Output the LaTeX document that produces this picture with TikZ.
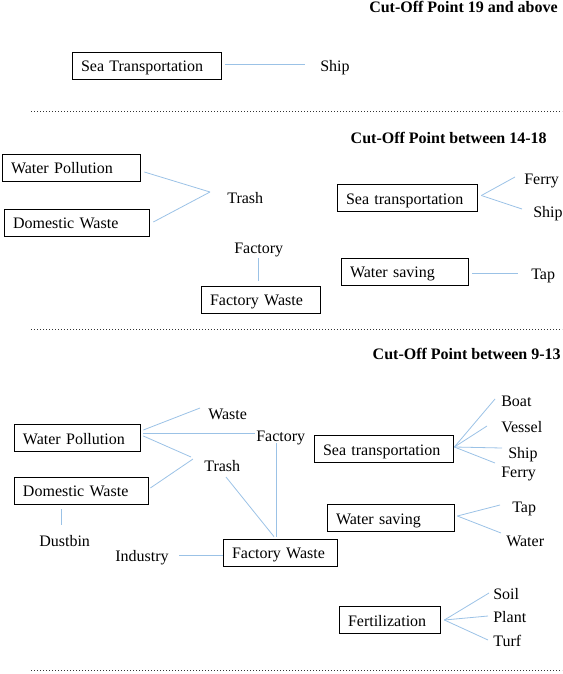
\documentclass[tikz,border=0pt]{standalone}
\usepackage{fontspec}
\setmainfont{Liberation Serif}
\usepackage{tikz}
\usetikzlibrary{arrows}
\definecolor{lnk}{RGB}{155,194,230}

\begin{document}
\begin{tikzpicture}[x=1pt,y=-1pt,semithick,font=\fontsize{16}{19}\selectfont]
  \tikzstyle{concept}=[draw=black,line width=0.7pt,inner xsep=9pt,inner ysep=0pt,align=left,
                       text height=13pt,text depth=1pt,minimum height=27pt]
  \tikzstyle{word}=[inner sep=0pt,anchor=base west]
  \tikzstyle{cutoff}=[inner sep=0pt,anchor=base east,font=\fontsize{16}{19}\selectfont\bfseries]
  \tikzstyle{divider}=[draw=black!80,line width=0.6pt,dash pattern=on 0.7pt off 2.3pt]
  \tikzstyle{every edge}=[draw=lnk,line width=0.8pt]
  \useasboundingbox (0,0) rectangle (562,674);

  % 19 and above
  \node[cutoff]                      (T1)    at (558,13)     {Cut-Off Point 19 and above};
  \node[concept,text width=131pt]    (ST1)   at (146.5,66)   {Sea Transportation};
  \node[word]                        (Ship1) at (320,72)     {Ship};
  \path ([xshift=4pt,yshift=1.5pt]ST1.east) edge ([xshift=-15pt,yshift=7.5pt]Ship1.base west);
  \draw[divider] (31,111) -- (562,111);

  % 14-18
  \node[cutoff]                      (T2)    at (547,143)    {Cut-Off Point between 14-18};
  \node[concept,text width=120pt]    (WP2)   at (71,167.5)   {Water Pollution};
  \node[concept,text width=127pt]    (DW2)   at (76.5,222.5) {Domestic Waste};
  \node[word]                        (Trash2) at (227,203)   {Trash};
  \coordinate                        (J2)    at (210,192);
  \node[concept,text width=122pt]    (ST2)   at (407,198)    {Sea transportation};
  \node[word]                        (Ferry2) at (524,184)   {Ferry};
  \node[word]                        (Ship2) at (533,217)    {Ship};
  \node[word]                        (Fac2)  at (234,253)    {Factory};
  \node[concept,text width=101pt]    (FW2)   at (260.5,299.5) {Factory Waste};
  \node[concept,text width=109pt]    (WS2)   at (404.5,271.5) {Water saving};
  \node[word]                        (Tap2)  at (531,279)    {Tap};

  \path ([xshift=4pt,yshift=-4.5pt]WP2.east) edge (J2)
        ([xshift=4pt,yshift=0.5pt]DW2.east)  edge (J2)
        ([xshift=4pt,yshift=2.5pt]ST2.east)  edge ([xshift=-9pt,yshift=7pt]Ferry2.base west)
        ([xshift=4pt,yshift=2.5pt]ST2.east)  edge ([xshift=-11pt,yshift=8pt]Ship2.base west)
        ([yshift=-1pt]Fac2.south)            edge ([yshift=5pt]Fac2.south |- FW2.north)
        ([xshift=4pt,yshift=-1.5pt]WS2.east) edge ([xshift=-13pt,yshift=6pt]Tap2.base west);
  \draw[divider] (31,329) -- (562,329);

  % 9-13
  \node[cutoff]                      (T3)    at (561,359)    {Cut-Off Point between 9-13};
  \node[concept,text width=108pt]    (WP3)   at (77,438)     {Water Pollution};
  \node[word]                        (Waste3) at (208,419)   {Waste};
  \node[word]                        (Fac3)  at (256,441)    {Factory};
  \node[word]                        (Trash3) at (204,471)   {Trash};
  \node[concept,text width=116pt]    (DW3)   at (81,490.5)   {Domestic Waste};
  \node[word]                        (Bin3)  at (39,546)     {Dustbin};
  \node[word]                        (Ind3)  at (115,561)    {Industry};
  \node[concept,text width=96pt]     (FW3)   at (280,552.5)  {Factory Waste};
  \node[concept,text width=121pt]    (ST3)   at (383.5,449)  {Sea transportation};
  \node[word]                        (Boat3) at (501,406)    {Boat};
  \node[word]                        (Ves3)  at (501,432)    {Vessel};
  \node[word]                        (Ship3) at (508,458)    {Ship};
  \node[word]                        (Ferry3) at (501,477)   {Ferry};
  \node[concept,text width=109pt]    (WS3)   at (390.5,518)  {Water saving};
  \node[word]                        (Tap3)  at (512,512)    {Tap};
  \node[word]                        (Wat3)  at (506,546)    {Water};
  \node[concept,text width=83pt]     (Fert3) at (389.5,620)  {Fertilization};
  \node[word]                        (Soil3) at (493,599)    {Soil};
  \node[word]                        (Plant3) at (493,622)   {Plant};
  \node[word]                        (Turf3) at (493,646)    {Turf};

  \path ([xshift=3pt,yshift=8pt]WP3.east)   edge ([xshift=-8pt,yshift=11pt]Waste3.base west)
        ([xshift=3pt,yshift=5pt]WP3.east)   edge ([xshift=-1pt,yshift=8pt]Fac3.base west)
        ([xshift=3pt,yshift=2pt]WP3.east)   edge ([xshift=-13pt,yshift=14pt]Trash3.base west)
        ([xshift=2pt,yshift=2.5pt]DW3.east) edge ([xshift=-11pt,yshift=12pt]Trash3.base west)
        ([xshift=22pt,yshift=-6pt]Trash3.base west) edge ([xshift=-6pt,yshift=2pt]FW3.north)
        ([xshift=20pt,yshift=-2pt]Fac3.base west)   edge ([xshift=-4pt,yshift=2pt]FW3.north)
        ([xshift=-20pt,yshift=-5pt]DW3.south)       edge ([xshift=22pt,yshift=21pt]Bin3.base west)
        ([xshift=64pt,yshift=6pt]Ind3.base west)    edge ([yshift=-2.5pt]FW3.west)
        ([xshift=1pt,yshift=2pt]ST3.east)   edge ([xshift=-6pt,yshift=7pt]Boat3.base west)
        ([xshift=1pt,yshift=2pt]ST3.east)   edge ([xshift=-14pt,yshift=6pt]Ves3.base west)
        ([xshift=1pt,yshift=2pt]ST3.east)   edge ([xshift=-6pt,yshift=10pt]Ship3.base west)
        ([xshift=1pt,yshift=2pt]ST3.east)   edge ([xshift=-6pt,yshift=14pt]Ferry3.base west)
        ([xshift=3pt,yshift=2pt]WS3.east)   edge ([xshift=-12pt,yshift=7pt]Tap3.base west)
        ([xshift=3pt,yshift=2pt]WS3.east)   edge ([xshift=-5pt,yshift=13pt]Wat3.base west)
        ([xshift=4pt]Fert3.east)            edge ([xshift=-4pt,yshift=6pt]Soil3.base west)
        ([xshift=4pt]Fert3.east)            edge ([xshift=-5pt,yshift=6pt]Plant3.base west)
        ([xshift=4pt]Fert3.east)            edge ([xshift=-5pt,yshift=6pt]Turf3.base west);
  \draw[divider] (31,670) -- (562,670);
\end{tikzpicture}
\end{document}
